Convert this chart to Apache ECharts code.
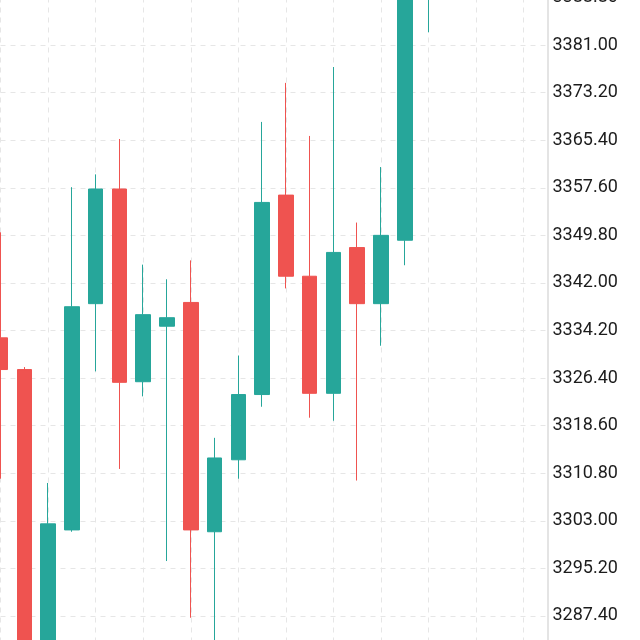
<!DOCTYPE html>
<html>
<head>
<meta charset="utf-8">
<script src="https://cdn.jsdelivr.net/npm/echarts@6/dist/echarts.min.js"></script>
<style>
  html, body { margin: 0; padding: 0; background: #fff; overflow: hidden; }
  body { width: 640px; height: 640px; position: relative; }
  /* the plot runs past the top and bottom edge of the picture */
  #chart { position: absolute; left: 0; top: -20px; width: 640px; height: 700px; }
</style>
</head>
<body>
<div id="chart"></div>
<script>
// bars, left to right (the last ones run off the top)
const categories = ['1','2','3','4','5','6','7','8','9','10','11','12','13','14','15','16','17','18','19','20','21','22','23','24']
const opens  = [3333.0, 3327.8, 3280.0, 3301.5, 3338.6, 3357.4, 3325.8, 3334.9, 3338.8, 3301.2, 3313.0, 3323.7, 3356.4, 3343.1, 3323.9, 3347.8, 3338.6, 3349.0, 3392.0]
const closes = [3327.8, 3278.0, 3302.5, 3338.1, 3357.4, 3325.7, 3336.8, 3336.3, 3301.5, 3313.3, 3323.7, 3355.2, 3343.1, 3323.9, 3347.0, 3338.6, 3349.8, 3392.0, 3396.0]
const lows   = [3309.9, 3272.0, 3274.0, 3301.2, 3327.5, 3311.5, 3323.4, 3296.4, 3287.1, 3279.0, 3309.9, 3321.7, 3341.1, 3319.9, 3319.4, 3309.6, 3331.7, 3344.9, 3383.1]
const highs  = [3350.3, 3328.2, 3309.2, 3357.7, 3359.8, 3365.6, 3345.0, 3342.6, 3345.7, 3316.6, 3330.1, 3368.4, 3374.8, 3366.1, 3377.4, 3351.9, 3361.0, 3395.0, 3398.0]

const yMin = 3279.6
const yMax = 3388.8
const yStep = 7.8

const upColor = '#26a69a'
const downColor = '#ef5350'

const chart = echarts.init(document.getElementById('chart'))

const candles = opens.map((o, i) => [o, closes[i], lows[i], highs[i]])

chart.setOption({
  animation: false,
  backgroundColor: '#fff',
  grid: { left: 0.5, right: 92.5, top: 17.5, bottom: 16.5, containLabel: false },
  xAxis: {
    type: 'category',
    data: categories,
    boundaryGap: false,
    axisLine: { show: false },
    axisTick: { show: false },
    axisLabel: { show: false },
    splitLine: {
      show: true,
      interval: 1,
      lineStyle: { color: '#e6e6e6', type: [5, 5], width: 1 }
    }
  },
  yAxis: {
    type: 'value',
    position: 'right',
    min: yMin,
    max: yMax,
    interval: yStep,
    scale: true,
    axisLine: { show: true, lineStyle: { color: '#e4e4e4', width: 2 } },
    axisTick: { show: false },
    axisLabel: {
      margin: 5,
      color: '#1c1c1c',
      fontSize: 18,
      fontFamily: 'Roboto',
      padding: [4, 0, 0, 0],
      formatter: v => v.toFixed(2)
    },
    splitLine: {
      show: true,
      lineStyle: { color: '#e6e6e6', type: [5, 5], width: 1 }
    }
  },
  series: [{
    type: 'candlestick',
    data: candles,
    barWidth: 15,
    itemStyle: {
      color: upColor,
      color0: downColor,
      borderColor: upColor,
      borderColor0: downColor,
      borderWidth: 1
    }
  }]
})
</script>
</body>
</html>
